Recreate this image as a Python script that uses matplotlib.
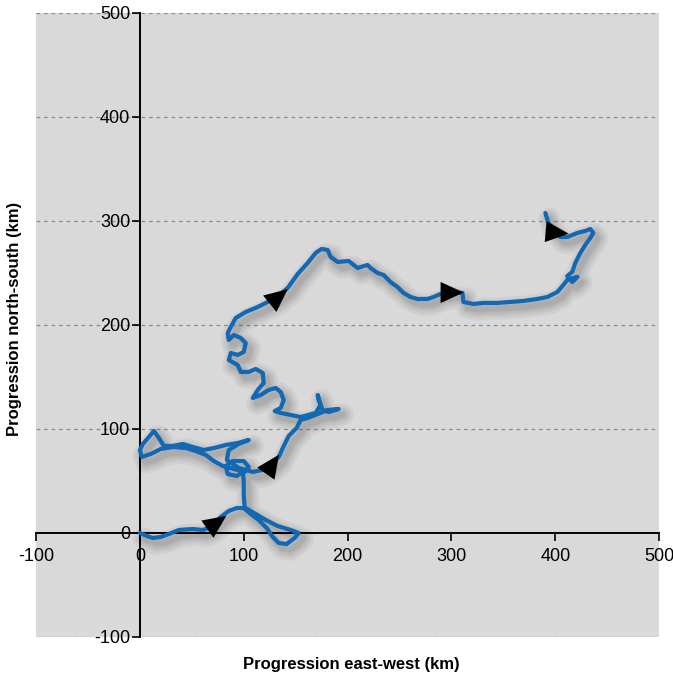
import numpy as np
import matplotlib
matplotlib.use('Agg')
import matplotlib.pyplot as plt
import matplotlib.patheffects as pe
from matplotlib.markers import MarkerStyle
from matplotlib.path import Path
from matplotlib.transforms import Affine2D

plt.rcParams['font.family'] = ['Liberation Sans Narrow', 'Liberation Sans', 'DejaVu Sans']
plt.rcParams['axes.unicode_minus'] = False

# track, km east-west / north-south
track_x = [0, 6.7, 12.5, 20.2, 27.9, 37.5, 51.0, 60.6, 66.3, 72.1,
           77.9, 85.6, 93.3, 101.9, 111.5, 121.2, 132.7, 145.2, 152.9, 149.0,
           141.3, 133.7, 127.9, 122.1, 114.4, 106.7, 101.0, 100.0, 100.0, 99.0,
           93.3, 84.6, 82.7, 89.4, 100.0, 104.8, 101.0, 79.8, 71.2, 63.5,
           53.8, 44.2, 31.7, 20.2, 10.6, 1.9, 0, 2.9, 8.7, 13.5,
           18.3, 23.1, 31.7, 41.3, 51.0, 61.5, 71.2, 82.7, 94.2, 104.8,
           95.2, 85.6, 83.7, 95.2, 108.7, 118.3, 126.0, 133.7, 138.5, 143.3,
           151.0, 154.8, 161.5, 171.2, 180.8, 191.3, 181.7, 176.0, 172.1, 171.2,
           174.0, 169.2, 154.8, 145.2, 135.6, 129.8, 135.6, 138.5, 135.6, 130.8,
           124.0, 116.3, 108.7, 113.5, 119.2, 118.3, 111.5, 104.8, 97.1, 94.2,
           85.6, 87.5, 94.2, 100.0, 101.9, 97.1, 90.4, 85.6, 84.6, 87.5,
           92.3, 101.9, 113.5, 123.1, 131.7, 142.3, 151.9, 161.5, 169.2, 175.0,
           180.8, 183.7, 190.4, 201.0, 209.6, 219.2, 222.1, 228.8, 234.6, 241.3,
           248.1, 253.8, 260.6, 267.3, 276.9, 282.7, 289.4, 299.0, 310.6, 311.5,
           321.2, 330.8, 344.2, 356.7, 369.2, 382.7, 392.3, 401.9, 407.7, 411.5,
           417.3, 421.2, 416.3, 411.5, 416.3, 419.2, 424.0, 428.8, 433.7, 436.5,
           433.7, 428.8, 421.2, 411.5, 404.8, 400.0, 393.3, 390.4]
track_y = [0, -2.9, -4.8, -3.8, -1.0, 2.9, 3.8, 2.9, 4.8, 9.6,
           15.4, 21.2, 24.0, 24.0, 18.3, 12.5, 6.7, 2.9, 0, -4.8,
           -10.6, -9.6, -3.8, 4.8, 12.5, 18.3, 23.1, 36.5, 51.0, 58.7,
           54.8, 56.7, 64.4, 69.2, 69.2, 63.5, 58.7, 64.4, 69.2, 75.0,
           78.8, 81.7, 82.7, 80.8, 76.0, 73.1, 79.8, 85.6, 92.3, 98.1,
           91.3, 83.7, 83.7, 85.6, 82.7, 79.8, 81.7, 84.6, 86.5, 89.4,
           85.6, 79.8, 70.2, 62.5, 58.7, 60.6, 65.4, 73.1, 83.7, 93.3,
           101.0, 108.7, 110.6, 114.4, 118.3, 119.2, 116.3, 118.3, 127.9, 132.7,
           123.1, 115.4, 111.5, 113.5, 115.4, 117.3, 120.2, 127.9, 135.6, 139.4,
           137.5, 132.7, 129.8, 137.5, 144.2, 153.8, 157.7, 154.8, 154.8, 161.5,
           166.3, 173.1, 171.2, 174.0, 182.7, 187.5, 190.4, 185.6, 192.3, 198.1,
           206.7, 212.5, 217.3, 222.1, 226.9, 235.6, 249.0, 259.6, 269.2, 273.1,
           272.1, 265.4, 260.6, 261.5, 254.8, 257.7, 254.8, 250.0, 248.1, 241.3,
           236.5, 230.8, 226.9, 225.0, 225.0, 226.9, 229.8, 231.7, 230.8, 222.1,
           220.2, 221.2, 221.2, 222.1, 223.1, 225.0, 226.9, 231.7, 238.5, 243.3,
           245.2, 246.2, 241.3, 247.1, 251.0, 259.6, 269.2, 276.9, 283.7, 288.5,
           292.3, 290.4, 288.5, 284.6, 284.6, 289.4, 298.1, 307.7]

# direction arrows: index on the track and heading in degrees
arrow_idx = [9, 66, 114, 137, 165]
arrow_angle = [35, 55, 39, 0, -5]

ticks = [-100, 0, 100, 200, 300, 400, 500]

fig = plt.figure(figsize=(6.73, 6.82), dpi=100)
ax = fig.add_axes([0.0535, 0.066, 0.926, 0.915])
ax.set_facecolor('#d9d9d9')
ax.set_xlim(-100, 500)
ax.set_ylim(-100, 500)

ax.spines['top'].set_visible(False)
ax.spines['right'].set_visible(False)
ax.spines['left'].set_position(('data', 0))
ax.spines['bottom'].set_position(('data', 0))
for s in ('left', 'bottom'):
    ax.spines[s].set_linewidth(1.4)
    ax.spines[s].set_zorder(3)

ax.set_xticks(ticks)
ax.set_yticks(ticks)
ax.tick_params(axis='x', direction='out', length=6, width=1.2, pad=5, labelsize=13)
ax.tick_params(axis='y', direction='out', length=6, width=1.2, pad=1, labelsize=13)

for t in ticks:
    if t != 0:
        ax.axhline(t, color='#8c8c8c', lw=0.9, ls=(0, (3, 3)), zorder=1)

shadow = [pe.SimpleLineShadow(offset=(3, -4), shadow_color='k', alpha=0.045, linewidth=w)
          for w in (16, 12, 9, 6, 4)]
ax.plot(track_x, track_y, color='#1268b2', lw=3.0, solid_capstyle='round',
        solid_joinstyle='round', zorder=4,
        path_effects=shadow + [pe.Normal()])

tri = Path([(1.0, 0.0), (-0.75, 0.8), (-0.75, -0.8), (1.0, 0.0)],
           [Path.MOVETO, Path.LINETO, Path.LINETO, Path.CLOSEPOLY])
for i, a in zip(arrow_idx, arrow_angle):
    m = MarkerStyle(tri, transform=Affine2D().rotate_deg(a))
    ax.plot(track_x[i], track_y[i], marker=m, ms=19, color='k', mec='k', mew=0, zorder=5)

fig.text(0.522, 0.025, 'Progression east-west (km)', ha='center', va='center',
         fontsize=12, fontweight='bold')
fig.text(0.022, 0.532, 'Progression north-south (km)', ha='center', va='center',
         rotation=90, fontsize=12, fontweight='bold')

fig.savefig('out.png', dpi=100)
